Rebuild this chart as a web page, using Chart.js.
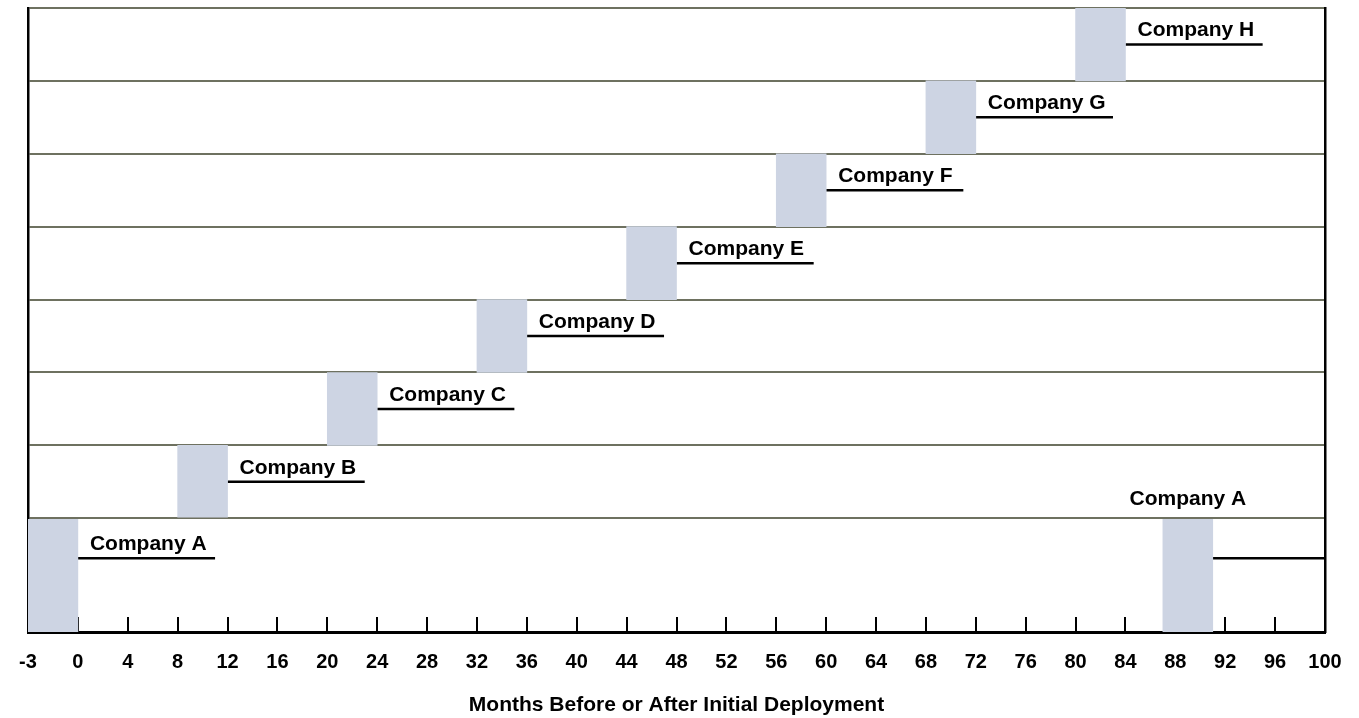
<!DOCTYPE html>
<html>
<head>
<meta charset="utf-8">
<script src="https://cdn.jsdelivr.net/npm/chart.js@4"></script>
<style>
  html, body { margin: 0; background: #fff; }
  #wrap { width: 1359px; height: 718px; }
</style>
</head>
<body>
<div id="wrap"><canvas id="deployChart"></canvas></div>
<script>
// companies from left to right
const companies = ['Company A', 'Company B', 'Company C', 'Company D', 'Company E', 'Company F', 'Company G', 'Company H', 'Company A'];
// row of each company, 0 = bottom row
const rows = [0, 1, 2, 3, 4, 5, 6, 7, 0];
// deployment window in months
const startMonths = [-3, 8, 20, 32, 44, 56, 68, 80, 87];
const endMonths = [0, 12, 24, 36, 48, 60, 72, 84, 91];
// where the underline under each label stops
const lineEndMonths = [11, 23, 35, 47, 59, 71, 83, 95, 100];
// x axis labels
const tickLabels = ['-3', '0', '4', '8', '12', '16', '20', '24', '28', '32', '36', '40', '44', '48',
  '52', '56', '60', '64', '68', '72', '76', '80', '84', '88', '92', '96', '100'];

const FONT = "'Liberation Sans', Arial, sans-serif";
const yMin = -1.56; // bottom row is taller than the others
const yMax = 7;

// the -3..0 stretch is drawn as wide as a normal 4 month step
const toAxis = m => (m < 0 ? m * 4 / 3 : m);
const rowMid = r => (r === 0 ? -0.55 : r - 0.5);

const barData = companies.map((c, i) => ({
  x: (toAxis(startMonths[i]) + toAxis(endMonths[i])) / 2,
  y: [rows[i] === 0 ? yMin : rows[i] - 1, rows[i]]
}));

const lineSets = companies.map((c, i) => ({
  type: 'line',
  data: [
    { x: toAxis(endMonths[i]), y: rowMid(rows[i]) },
    { x: lineEndMonths[i], y: rowMid(rows[i]) }
  ],
  borderColor: '#000',
  borderWidth: 2.5,
  pointRadius: 0,
  fill: false
}));

// company names above the underlines
const companyLabels = {
  id: 'companyLabels',
  afterDatasetsDraw(chart) {
    const { ctx, scales: { x, y } } = chart;
    ctx.save();
    ctx.font = 'bold 21px ' + FONT;
    ctx.fillStyle = '#000';
    ctx.textBaseline = 'alphabetic';
    companies.forEach((name, i) => {
      if (lineEndMonths[i] >= x.max) {
        // no room on the right: put it over the bar
        ctx.textAlign = 'center';
        ctx.fillText(name, x.getPixelForValue(barData[i].x), y.getPixelForValue(rows[i]) - 13);
      } else {
        ctx.textAlign = 'left';
        ctx.fillText(name, x.getPixelForValue(toAxis(endMonths[i])) + 12, y.getPixelForValue(rowMid(rows[i])) - 8);
      }
    });
    ctx.restore();
  }
};

new Chart(document.getElementById('deployChart'), {
  type: 'bar',
  data: {
    datasets: [{
      data: barData,
      backgroundColor: '#cdd4e3',
      borderWidth: 0,
      categoryPercentage: 1,
      barPercentage: 1
    }, ...lineSets]
  },
  options: {
    responsive: true,
    maintainAspectRatio: false,
    animation: false,
    layout: { padding: { left: 0, right: 0, top: 8, bottom: 0 } },
    plugins: {
      legend: { display: false },
      tooltip: { enabled: false }
    },
    scales: {
      x: {
        type: 'linear',
        min: -4,
        max: 100,
        offset: false,
        afterFit: s => { s.height = 86; s.paddingLeft = 0; s.paddingRight = 0; },
        border: { color: '#000', width: 3 },
        grid: { offset: false, drawOnChartArea: false, color: '#000', lineWidth: 2, tickLength: -15 },
        ticks: {
          stepSize: 4,
          autoSkip: false,
          maxRotation: 0,
          padding: 33,
          color: '#000',
          font: { family: FONT, size: 20, weight: 'bold' },
          callback: (v, i) => tickLabels[i]
        },
        title: {
          display: true,
          text: 'Months Before or After Initial Deployment',
          color: '#000',
          font: { family: FONT, size: 21, weight: 'bold', lineHeight: 1 },
          padding: { top: 0, bottom: 2.5 }
        }
      },
      y: {
        min: yMin,
        max: yMax,
        z: 1,
        afterFit: s => { s.width = 28; },
        afterBuildTicks: s => { s.ticks = [0, 1, 2, 3, 4, 5, 6, 7].map(v => ({ value: v })); },
        border: { color: '#000', width: 2.5 },
        grid: { color: '#6e7160', lineWidth: 2, drawTicks: false },
        ticks: { display: false }
      },
      y2: {
        position: 'right',
        min: yMin,
        max: yMax,
        afterFit: s => { s.width = 34; },
        border: { color: '#000', width: 2.5 },
        grid: { drawOnChartArea: false, drawTicks: false },
        ticks: { display: false }
      }
    }
  },
  plugins: [companyLabels]
});
</script>
</body>
</html>
